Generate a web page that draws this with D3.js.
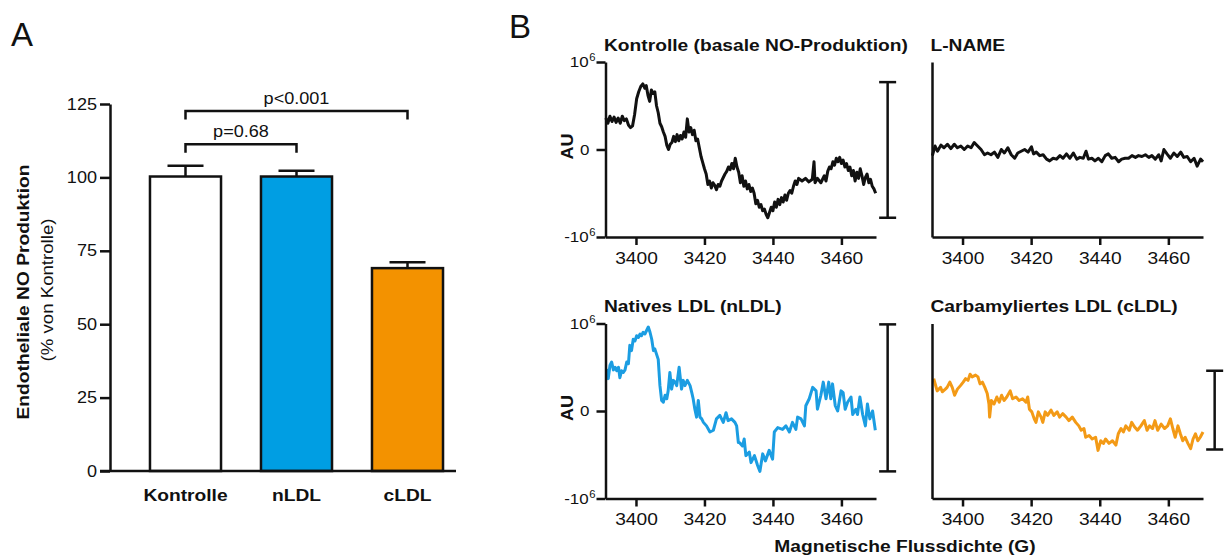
<!DOCTYPE html>
<html>
<head>
<meta charset="utf-8">
<script src="https://cdn.jsdelivr.net/npm/d3@7"></script>
<style>
  body { margin: 0; background: #fff; }
  svg { font-family: "Liberation Sans", Arial, Helvetica, sans-serif; }
  .sx-s, .sx-m, .sx-e { transform-box: fill-box; transform: scaleX(1.13); }
  .sx-s { transform-origin: 0% 50%; }
  .sx-m { transform-origin: 50% 50%; }
  .sx-e { transform-origin: 100% 50%; }
</style>
</head>
<body>
<svg id="chart" width="1224" height="556"></svg>
<script>
// ---- panel A data ----
const categories = ['Kontrolle', 'nLDL', 'cLDL']
const means = [100.3, 100.3, 69.1]
const sem = [3.7, 2.0, 2.0]
const barColors = ['#ffffff', '#009ee3', '#f39200']
const yTicksA = [0, 25, 50, 75, 100, 125]
const comparisons = [
  {from: 'Kontrolle', to: 'nLDL', label: 'p=0.68', level: 111.3},
  {from: 'Kontrolle', to: 'cLDL', label: 'p<0.001', level: 122.6}
]

// ---- panel B data (field in G, signal in 10^6 AU) ----
const fieldTicks = [3400, 3420, 3440, 3460]
const auTicks = [-1, 0, 1]
const panelTitles = ['Kontrolle (basale NO-Produktion)', 'L-NAME', 'Natives LDL (nLDL)', 'Carbamyliertes LDL (cLDL)']
const traceColors = ['#111111', '#111111', '#1b9de2', '#f39a16']
const scaleBars = [[0.77, -0.78], null, [0.99, -0.69], [0.46, -0.44]]
const scaleBarField = 3473.5

const kontrolleTrace = [[3391.2,0.36],[3391.8,0.30],[3392.4,0.38],[3393.0,0.32],[3393.6,0.37],[3394.2,0.31],[3394.8,0.36],[3395.4,0.30],[3396.0,0.38],[3396.6,0.33],[3397.2,0.35],[3397.8,0.28],[3398.4,0.25],[3399.0,0.27],[3399.6,0.40],[3400.2,0.58],[3400.8,0.66],[3401.4,0.72],[3402.0,0.75],[3402.6,0.70],[3403.0,0.73],[3403.5,0.62],[3404.0,0.55],[3404.5,0.68],[3405.0,0.64],[3405.5,0.66],[3406.0,0.50],[3406.5,0.42],[3407.0,0.30],[3407.5,0.26],[3408.0,0.20],[3408.5,0.15],[3409.0,0.05],[3409.5,0.00],[3410.0,0.06],[3410.5,0.08],[3411.0,0.15],[3411.5,0.09],[3412.0,0.17],[3412.5,0.10],[3413.0,0.16],[3413.5,0.12],[3414.0,0.20],[3414.5,0.14],[3415.0,0.35],[3415.5,0.20],[3416.0,0.25],[3416.5,0.17],[3417.0,0.22],[3417.5,0.10],[3418.0,0.12],[3418.5,0.02],[3419.0,-0.08],[3419.5,-0.15],[3420.0,-0.22],[3420.5,-0.28],[3421.0,-0.40],[3421.5,-0.36],[3422.0,-0.44],[3422.5,-0.38],[3423.0,-0.41],[3423.5,-0.46],[3424.0,-0.40],[3424.5,-0.42],[3425.0,-0.36],[3425.5,-0.32],[3426.0,-0.28],[3426.5,-0.25],[3427.0,-0.20],[3427.5,-0.23],[3428.0,-0.16],[3428.5,-0.22],[3429.0,-0.10],[3429.5,-0.20],[3430.0,-0.26],[3430.5,-0.38],[3431.0,-0.30],[3431.5,-0.42],[3432.0,-0.36],[3432.5,-0.45],[3433.0,-0.40],[3433.5,-0.48],[3434.0,-0.44],[3434.5,-0.50],[3435.0,-0.62],[3435.5,-0.58],[3436.0,-0.66],[3436.5,-0.63],[3437.0,-0.70],[3437.5,-0.68],[3438.0,-0.74],[3438.5,-0.78],[3439.0,-0.72],[3439.5,-0.66],[3440.0,-0.70],[3440.5,-0.60],[3441.0,-0.66],[3441.5,-0.57],[3442.0,-0.63],[3442.5,-0.55],[3443.0,-0.60],[3443.5,-0.52],[3444.0,-0.58],[3444.5,-0.50],[3445.0,-0.47],[3445.5,-0.50],[3446.0,-0.42],[3446.5,-0.36],[3447.0,-0.40],[3447.5,-0.33],[3448.5,-0.36],[3449.5,-0.33],[3450.5,-0.37],[3451.5,-0.34],[3452.0,-0.14],[3452.3,-0.38],[3453.0,-0.33],[3454.0,-0.38],[3455.0,-0.30],[3455.5,-0.36],[3456.0,-0.25],[3456.5,-0.20],[3457.0,-0.22],[3457.5,-0.14],[3458.0,-0.18],[3458.5,-0.10],[3459.0,-0.14],[3459.5,-0.09],[3460.0,-0.16],[3460.5,-0.12],[3461.0,-0.20],[3461.5,-0.16],[3462.0,-0.24],[3462.5,-0.20],[3463.0,-0.30],[3463.5,-0.24],[3464.0,-0.36],[3464.5,-0.26],[3465.0,-0.33],[3465.5,-0.22],[3466.0,-0.30],[3466.5,-0.40],[3467.0,-0.32],[3467.5,-0.28],[3468.0,-0.38],[3468.5,-0.34],[3469.0,-0.42],[3469.5,-0.45],[3470.0,-0.50]]

const lnameTrace = [[3391.2,-0.07],[3392.0,0.04],[3392.7,-0.02],[3393.7,0.05],[3394.6,0.02],[3395.6,0.06],[3396.6,0.01],[3397.6,0.06],[3398.5,0.02],[3399.5,0.04],[3400.5,0.00],[3401.5,0.04],[3402.5,0.02],[3403.4,0.08],[3404.4,0.04],[3405.4,0.00],[3406.4,-0.06],[3407.3,-0.04],[3408.3,-0.06],[3409.3,-0.03],[3410.3,-0.09],[3411.3,0.00],[3412.2,-0.04],[3413.2,0.02],[3414.2,-0.06],[3415.2,-0.10],[3416.1,-0.04],[3417.1,-0.02],[3418.1,0.00],[3419.1,-0.03],[3420.1,0.03],[3420.7,-0.05],[3421.5,-0.03],[3422.5,-0.07],[3423.5,-0.06],[3424.5,-0.11],[3425.4,-0.13],[3426.4,-0.10],[3427.4,-0.11],[3428.4,-0.07],[3429.3,-0.10],[3430.3,-0.05],[3431.3,-0.10],[3432.3,-0.04],[3433.3,-0.11],[3434.2,-0.09],[3435.2,-0.10],[3436.0,-0.02],[3436.7,-0.11],[3437.7,-0.10],[3438.6,-0.13],[3439.6,-0.10],[3440.6,-0.14],[3441.6,-0.07],[3442.5,-0.05],[3443.5,-0.10],[3444.5,-0.09],[3445.5,-0.14],[3446.4,-0.11],[3447.4,-0.10],[3448.4,-0.10],[3449.4,-0.07],[3450.4,-0.09],[3451.3,-0.07],[3452.3,-0.08],[3453.3,-0.06],[3454.3,-0.09],[3455.2,-0.07],[3456.2,-0.11],[3457.2,-0.06],[3457.9,-0.13],[3458.7,0.00],[3459.6,-0.05],[3460.6,-0.10],[3461.6,-0.04],[3462.6,-0.08],[3463.6,-0.03],[3464.5,-0.09],[3465.5,-0.08],[3466.5,-0.14],[3467.5,-0.10],[3468.4,-0.19],[3469.4,-0.11],[3470.1,-0.14]]

const nldlTrace = [[3391.4,0.48],[3391.9,0.37],[3392.4,0.52],[3392.9,0.56],[3393.4,0.47],[3393.9,0.50],[3394.4,0.46],[3394.9,0.50],[3395.3,0.38],[3395.8,0.46],[3396.3,0.44],[3396.8,0.47],[3397.3,0.56],[3397.8,0.54],[3398.2,0.75],[3398.7,0.69],[3399.2,0.82],[3399.7,0.80],[3400.2,0.86],[3400.7,0.84],[3401.2,0.88],[3401.6,0.86],[3402.1,0.90],[3402.6,0.88],[3403.1,0.92],[3403.6,0.96],[3404.1,0.90],[3404.6,0.82],[3405.1,0.69],[3405.5,0.71],[3406.0,0.65],[3406.5,0.59],[3407.0,0.29],[3407.5,0.12],[3408.0,0.10],[3408.5,0.18],[3409.0,0.14],[3409.4,0.23],[3409.9,0.44],[3410.4,0.25],[3410.9,0.35],[3411.4,0.33],[3411.9,0.29],[3412.6,0.50],[3413.3,0.25],[3413.8,0.35],[3414.3,0.29],[3415.0,0.35],[3415.8,0.29],[3416.3,0.21],[3416.7,0.14],[3417.2,0.02],[3417.7,-0.07],[3418.2,0.12],[3418.7,-0.07],[3419.2,-0.09],[3419.7,-0.13],[3420.6,-0.17],[3421.6,-0.24],[3422.6,-0.22],[3423.5,-0.09],[3424.5,-0.05],[3425.5,-0.13],[3426.3,-0.02],[3426.9,-0.11],[3427.9,-0.09],[3428.9,-0.13],[3429.4,-0.17],[3429.9,-0.36],[3430.2,-0.36],[3431.1,-0.40],[3431.6,-0.32],[3432.1,-0.51],[3433.1,-0.47],[3433.6,-0.59],[3434.6,-0.51],[3435.5,-0.62],[3436.2,-0.69],[3437.0,-0.49],[3437.8,-0.57],[3438.9,-0.45],[3439.9,-0.55],[3440.4,-0.24],[3441.4,-0.19],[3442.8,-0.21],[3443.8,-0.17],[3444.8,-0.24],[3445.7,-0.13],[3446.7,-0.21],[3447.2,-0.07],[3448.2,-0.09],[3449.2,-0.17],[3449.6,0.06],[3450.6,0.14],[3451.6,0.27],[3452.6,0.23],[3453.0,0.02],[3454.0,0.18],[3454.7,0.33],[3455.5,0.14],[3456.3,0.33],[3456.9,0.14],[3457.4,0.31],[3458.2,0.06],[3458.9,0.00],[3459.9,0.23],[3460.5,0.21],[3461.1,0.02],[3461.8,0.10],[3462.8,0.16],[3463.3,-0.04],[3464.2,0.02],[3464.7,-0.04],[3465.4,0.16],[3466.2,-0.04],[3467.0,-0.17],[3467.6,0.08],[3468.3,-0.09],[3469.1,0.00],[3469.9,-0.22]]

const cldlTrace = [[3391.6,0.37],[3392.1,0.30],[3392.6,0.23],[3393.6,0.27],[3394.1,0.22],[3395.0,0.25],[3395.5,0.27],[3396.3,0.33],[3397.0,0.27],[3397.7,0.18],[3398.5,0.25],[3399.4,0.29],[3400.2,0.33],[3400.9,0.37],[3401.6,0.35],[3402.2,0.42],[3402.8,0.39],[3403.8,0.41],[3404.5,0.39],[3405.1,0.31],[3405.8,0.33],[3406.5,0.27],[3407.2,0.20],[3407.7,0.08],[3407.9,-0.07],[3408.4,0.12],[3409.2,0.08],[3410.0,0.16],[3410.7,0.10],[3411.4,0.18],[3412.1,0.12],[3412.9,0.16],[3413.9,0.23],[3414.6,0.14],[3415.6,0.16],[3416.5,0.12],[3417.5,0.14],[3418.5,0.10],[3419.0,0.16],[3419.5,0.02],[3420.2,-0.01],[3420.9,-0.09],[3421.4,-0.13],[3422.1,-0.01],[3422.9,-0.07],[3423.4,-0.13],[3424.1,-0.01],[3424.8,-0.05],[3425.8,0.01],[3426.6,-0.05],[3427.6,-0.01],[3428.3,-0.07],[3429.2,-0.03],[3430.2,-0.07],[3431.0,-0.11],[3432.0,-0.07],[3433.0,-0.13],[3433.9,-0.17],[3434.6,-0.22],[3435.4,-0.20],[3435.9,-0.30],[3436.9,-0.28],[3437.8,-0.32],[3438.8,-0.30],[3439.5,-0.45],[3440.3,-0.34],[3441.1,-0.37],[3441.7,-0.32],[3442.7,-0.37],[3443.7,-0.34],[3444.7,-0.39],[3445.4,-0.26],[3446.2,-0.20],[3446.9,-0.24],[3447.6,-0.17],[3448.6,-0.22],[3449.3,-0.13],[3450.1,-0.18],[3451.0,-0.22],[3452.0,-0.17],[3453.0,-0.11],[3453.8,-0.22],[3454.5,-0.17],[3455.4,-0.20],[3456.1,-0.11],[3456.9,-0.22],[3457.9,-0.15],[3458.9,-0.20],[3459.8,-0.17],[3460.6,-0.09],[3461.3,-0.20],[3462.0,-0.30],[3462.8,-0.17],[3463.5,-0.26],[3464.2,-0.34],[3464.9,-0.30],[3465.7,-0.37],[3466.5,-0.43],[3467.2,-0.32],[3467.9,-0.26],[3468.6,-0.34],[3469.3,-0.30],[3470.1,-0.24]]

const traces = [kontrolleTrace, lnameTrace, nldlTrace, cldlTrace]

const ink = '#111'
const svg = d3.select('#chart')

// panel letters
svg.append('text').attr('x', 11).attr('y', 46).attr('font-size', 33).attr('fill', ink).text('A')
svg.append('text').attr('x', 509).attr('y', 38).attr('font-size', 33).attr('fill', ink).text('B')

// ================= panel A =================
const yA = d3.scaleLinear().domain([0, 125]).range([471, 104])
const xA = d3.scaleBand().domain(categories).range([130, 463]).paddingInner(0.36).paddingOuter(0.18)

const gA = svg.append('g')

// bars
gA.selectAll('.bar')
  .data(categories)
  .enter()
  .append('rect')
  .attr('class', 'bar')
  .attr('x', d => xA(d))
  .attr('y', (d, i) => yA(means[i]))
  .attr('width', xA.bandwidth())
  .attr('height', (d, i) => yA(0) - yA(means[i]))
  .attr('fill', (d, i) => barColors[i])
  .attr('stroke', ink)
  .attr('stroke-width', 2.5)

// error bars (upper only)
let err = gA.selectAll('.err').data(categories).enter().append('g').attr('class', 'err')
  .attr('stroke', ink).attr('stroke-width', 2.5)
err.append('line')
  .attr('x1', d => xA(d) + xA.bandwidth() / 2)
  .attr('x2', d => xA(d) + xA.bandwidth() / 2)
  .attr('y1', (d, i) => yA(means[i]))
  .attr('y2', (d, i) => yA(means[i] + sem[i]))
err.append('line')
  .attr('x1', d => xA(d) + xA.bandwidth() / 2 - 18)
  .attr('x2', d => xA(d) + xA.bandwidth() / 2 + 18)
  .attr('y1', (d, i) => yA(means[i] + sem[i]))
  .attr('y2', (d, i) => yA(means[i] + sem[i]))

// y axis
let yAxisA = gA.append('g')
  .attr('transform', 'translate(110,0)')
  .style('color', ink)
  .call(d3.axisLeft(yA).tickValues(yTicksA).tickSize(10).tickSizeOuter(0).tickPadding(3))
yAxisA.selectAll('path, line').attr('stroke-width', 2.5)
yAxisA.selectAll('.tick text').attr('font-size', 16).attr('class', 'sx-e')

// x axis line + category labels
gA.append('line')
  .attr('x1', 100).attr('x2', 456)
  .attr('y1', yA(0)).attr('y2', yA(0))
  .attr('stroke', ink).attr('stroke-width', 2.5)
let xAxisA = gA.append('g')
  .attr('transform', `translate(0,${yA(0)})`)
  .style('color', ink)
  .call(d3.axisBottom(xA).tickSize(0).tickPadding(18))
xAxisA.select('.domain').remove()
xAxisA.selectAll('.tick text').attr('font-size', 17).attr('font-weight', 'bold').attr('class', 'sx-m')

// significance brackets
comparisons.forEach(c => {
  let x1 = xA(c.from) + xA.bandwidth() / 2
  let x2 = xA(c.to) + xA.bandwidth() / 2
  let yy = yA(c.level)
  gA.append('path')
    .attr('d', `M${x1},${yy + 8.5}V${yy}H${x2}V${yy + 8.5}`)
    .attr('fill', 'none').attr('stroke', ink).attr('stroke-width', 2.5)
  gA.append('text')
    .attr('x', (x1 + x2) / 2).attr('y', yy - 7.5)
    .attr('text-anchor', 'middle').attr('font-size', 16).attr('fill', ink)
    .attr('class', 'sx-m')
    .text(c.label)
})

// y axis titles
gA.append('g').attr('transform', 'translate(29,292) rotate(-90)')
  .append('text').attr('text-anchor', 'middle').attr('font-size', 17).attr('font-weight', 'bold')
  .attr('fill', ink).attr('class', 'sx-m').text('Endotheliale NO Produktion')
gA.append('g').attr('transform', 'translate(53,290) rotate(-90)')
  .append('text').attr('text-anchor', 'middle').attr('font-size', 16.5)
  .attr('fill', ink).attr('class', 'sx-m').text('(% von Kontrolle)')

// ================= panel B =================
const cells = [
  {left: 605.5, right: 876, top: 62, bottom: 237, au: true},
  {left: 932, right: 1203, top: 62, bottom: 237, au: false},
  {left: 605.5, right: 876, top: 323.5, bottom: 498.5, au: true},
  {left: 932, right: 1203, top: 323.5, bottom: 498.5, au: false}
]
const fieldDomain = [3391.1, 3470.1]

cells.forEach((c, i) => {
  let x = d3.scaleLinear().domain(fieldDomain).range([c.left, c.right])
  let y = d3.scaleLinear().domain([-1, 1]).range([c.bottom, c.top])
  let g = svg.append('g')

  g.append('path')
    .datum(traces[i])
    .attr('d', d3.line().x(d => x(d[0])).y(d => y(d[1])))
    .attr('fill', 'none')
    .attr('stroke', traceColors[i])
    .attr('stroke-width', 3)
    .attr('stroke-linejoin', 'round')

  let xa = g.append('g')
    .attr('transform', `translate(0,${c.bottom})`)
    .style('color', ink)
    .call(d3.axisBottom(x).tickValues(fieldTicks).tickSize(8).tickPadding(6.5).tickSizeOuter(0).tickFormat(d3.format('d')))
  xa.selectAll('path, line').attr('stroke-width', 2.5)
  xa.selectAll('.tick text').attr('font-size', 17).attr('class', 'sx-m')

  let ya = g.append('g')
    .attr('transform', `translate(${c.left},0)`)
    .style('color', ink)
    .call(d3.axisLeft(y).tickValues(c.au ? auTicks : []).tickSize(9).tickPadding(7).tickSizeOuter(0).tickFormat(d3.format('d')))
  ya.selectAll('path, line').attr('stroke-width', 2.5)
  ya.selectAll('.tick text')
    .attr('font-size', 15)
    .attr('class', 'sx-e')
    .each(function (d) {
      let t = d3.select(this)
      if (d === 0) return
      let px = t.attr('x')
      t.text('')
      t.append('tspan').text(d < 0 ? '-10' : '10')
      t.append('tspan').attr('x', +px + 0.5).attr('dy', -6)
        .style('text-anchor', 'start').attr('font-size', 10).text('6')
    })

  if (c.au) {
    g.append('g').attr('transform', `translate(${c.left - 33},${y(0) - 3}) rotate(-90)`)
      .append('text').attr('text-anchor', 'middle').attr('font-size', 16).attr('font-weight', 'bold')
      .attr('fill', ink).attr('class', 'sx-m').text('AU')
  }

  let sb = scaleBars[i]
  if (sb) {
    let bx = x(scaleBarField)
    let bar = g.append('g').attr('stroke', ink).attr('stroke-width', 2.5)
    bar.append('line').attr('x1', bx).attr('x2', bx).attr('y1', y(sb[0])).attr('y2', y(sb[1]))
    bar.append('line').attr('x1', bx - 8.5).attr('x2', bx + 8.5).attr('y1', y(sb[0])).attr('y2', y(sb[0]))
    bar.append('line').attr('x1', bx - 8.5).attr('x2', bx + 8.5).attr('y1', y(sb[1])).attr('y2', y(sb[1]))
  }

  g.append('text')
    .attr('x', c.left - 1.5).attr('y', c.top - 11)
    .attr('font-size', 17).attr('font-weight', 'bold').attr('fill', ink)
    .attr('class', 'sx-s')
    .text(panelTitles[i])
})

svg.append('text')
  .attr('x', 905).attr('y', 552)
  .attr('text-anchor', 'middle').attr('font-size', 17).attr('font-weight', 'bold')
  .attr('fill', ink).attr('class', 'sx-m')
  .text('Magnetische Flussdichte (G)')
</script>
</body>
</html>
